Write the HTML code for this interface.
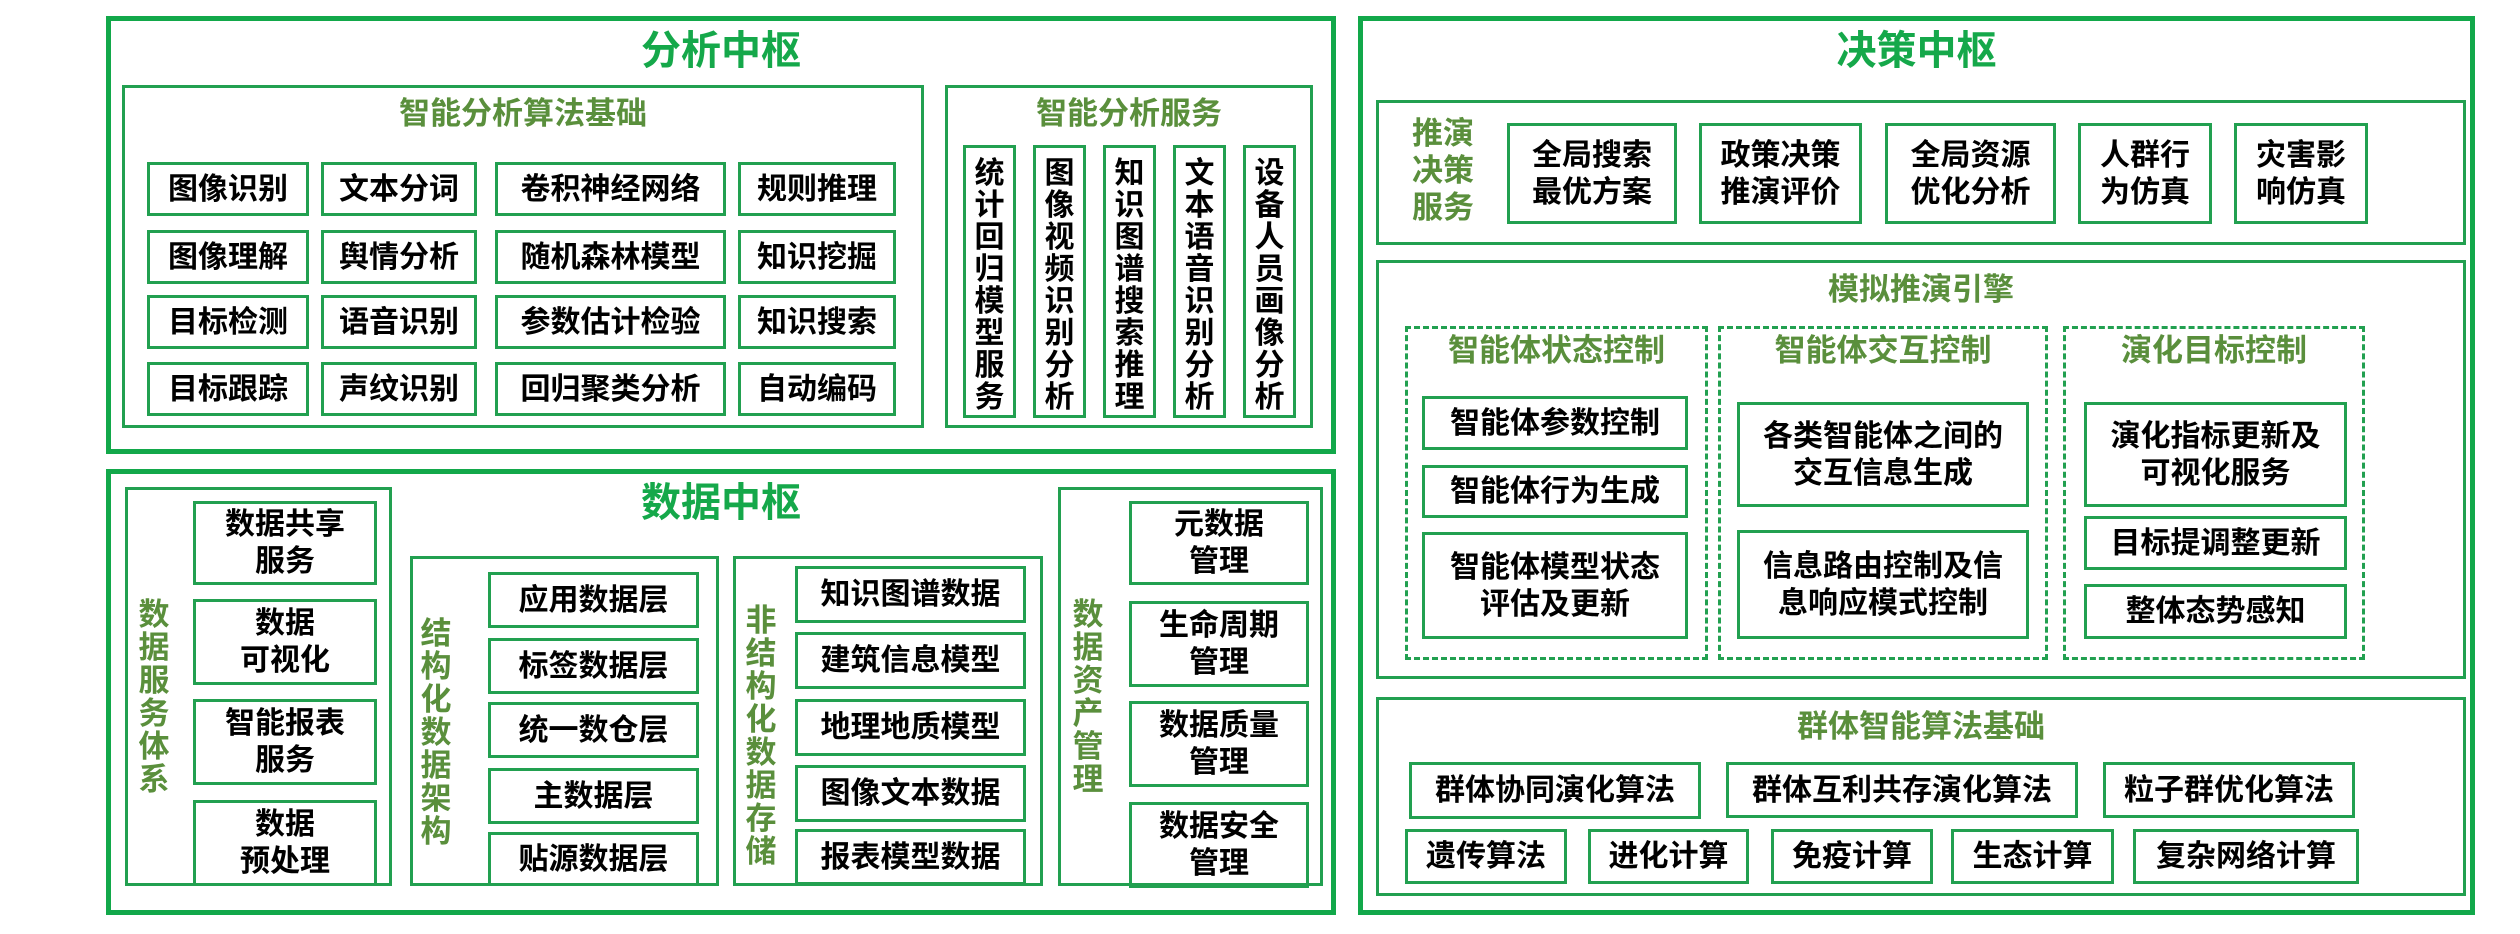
<!DOCTYPE html>
<html><head><meta charset="utf-8"><style>
body{margin:0;width:2520px;height:934px;background:#fff;position:relative;overflow:hidden;font-family:"Liberation Sans","Noto Sans CJK SC",sans-serif;font-weight:bold}
div{position:absolute;box-sizing:border-box}
.o{border:5px solid #12a84a}
.s{border:3px solid #22a050}
.b{border:3px solid #22a050;display:flex;align-items:center;justify-content:center;text-align:center;color:#000;font-size:30px;line-height:37px}
.d{border:3px dashed #22a050}
.t{color:#15a84a;font-size:40px;text-align:center;line-height:40px}
.st{color:#5a8f3c;font-size:31px;text-align:center;line-height:34px}
.v{display:flex;flex-direction:column;align-items:center;justify-content:space-between;padding:10px 0;font-size:30px;line-height:32px}
.vl{color:#5a8f3c;font-size:31px;line-height:33px;width:40px;text-align:center;word-break:break-all}
</style></head><body>
<!-- Analysis -->
<div class="o" style="left:106px;top:16px;width:1230px;height:438px"></div>
<div class="t" style="left:106px;top:31px;width:1230px">分析中枢</div>
<div class="s" style="left:122px;top:85px;width:802px;height:343px"></div>
<div class="st" style="left:122px;top:97px;width:802px">智能分析算法基础</div>
<div class="b" style="left:147px;top:162px;width:162px;height:54px">图像识别</div>
<div class="b" style="left:321px;top:162px;width:156px;height:54px">文本分词</div>
<div class="b" style="left:495px;top:162px;width:231px;height:54px">卷积神经网络</div>
<div class="b" style="left:738px;top:162px;width:158px;height:54px">规则推理</div>
<div class="b" style="left:147px;top:230px;width:162px;height:54px">图像理解</div>
<div class="b" style="left:321px;top:230px;width:156px;height:54px">舆情分析</div>
<div class="b" style="left:495px;top:230px;width:231px;height:54px">随机森林模型</div>
<div class="b" style="left:738px;top:230px;width:158px;height:54px">知识挖掘</div>
<div class="b" style="left:147px;top:295px;width:162px;height:54px">目标检测</div>
<div class="b" style="left:321px;top:295px;width:156px;height:54px">语音识别</div>
<div class="b" style="left:495px;top:295px;width:231px;height:54px">参数估计检验</div>
<div class="b" style="left:738px;top:295px;width:158px;height:54px">知识搜索</div>
<div class="b" style="left:147px;top:362px;width:162px;height:54px">目标跟踪</div>
<div class="b" style="left:321px;top:362px;width:156px;height:54px">声纹识别</div>
<div class="b" style="left:495px;top:362px;width:231px;height:54px">回归聚类分析</div>
<div class="b" style="left:738px;top:362px;width:158px;height:54px">自动编码</div>
<div class="s" style="left:945px;top:85px;width:368px;height:343px"></div>
<div class="st" style="left:945px;top:97px;width:368px">智能分析服务</div>
<div class="b v" style="left:963px;top:145px;width:53px;height:273px"><span>统</span><span>计</span><span>回</span><span>归</span><span>模</span><span>型</span><span>服</span><span>务</span></div>
<div class="b v" style="left:1033px;top:145px;width:53px;height:273px"><span>图</span><span>像</span><span>视</span><span>频</span><span>识</span><span>别</span><span>分</span><span>析</span></div>
<div class="b v" style="left:1103px;top:145px;width:53px;height:273px"><span>知</span><span>识</span><span>图</span><span>谱</span><span>搜</span><span>索</span><span>推</span><span>理</span></div>
<div class="b v" style="left:1173px;top:145px;width:53px;height:273px"><span>文</span><span>本</span><span>语</span><span>音</span><span>识</span><span>别</span><span>分</span><span>析</span></div>
<div class="b v" style="left:1243px;top:145px;width:53px;height:273px"><span>设</span><span>备</span><span>人</span><span>员</span><span>画</span><span>像</span><span>分</span><span>析</span></div>

<!-- Data -->
<div class="o" style="left:106px;top:469px;width:1230px;height:446px"></div>
<div class="t" style="left:106px;top:483px;width:1230px">数据中枢</div>
<div class="s" style="left:125px;top:487px;width:267px;height:399px"></div>
<div class="vl" style="left:134px;top:598px">数据服务体系</div>
<div class="b" style="left:193px;top:501px;width:184px;height:84px">数据共享<br>服务</div>
<div class="b" style="left:193px;top:599px;width:184px;height:86px">数据<br>可视化</div>
<div class="b" style="left:193px;top:699px;width:184px;height:86px">智能报表<br>服务</div>
<div class="b" style="left:193px;top:800px;width:184px;height:86px">数据<br>预处理</div>
<div class="s" style="left:410px;top:556px;width:309px;height:330px"></div>
<div class="vl" style="left:416px;top:617px">结构化数据架构</div>
<div class="b" style="left:488px;top:572px;width:211px;height:56px">应用数据层</div>
<div class="b" style="left:488px;top:638px;width:211px;height:56px">标签数据层</div>
<div class="b" style="left:488px;top:702px;width:211px;height:56px">统一数仓层</div>
<div class="b" style="left:488px;top:768px;width:211px;height:56px">主数据层</div>
<div class="b" style="left:488px;top:832px;width:211px;height:54px">贴源数据层</div>
<div class="s" style="left:733px;top:556px;width:310px;height:330px"></div>
<div class="vl" style="left:741px;top:604px">非结构化数据存储</div>
<div class="b" style="left:795px;top:566px;width:231px;height:57px">知识图谱数据</div>
<div class="b" style="left:795px;top:632px;width:231px;height:57px">建筑信息模型</div>
<div class="b" style="left:795px;top:699px;width:231px;height:57px">地理地质模型</div>
<div class="b" style="left:795px;top:765px;width:231px;height:57px">图像文本数据</div>
<div class="b" style="left:795px;top:829px;width:231px;height:56px">报表模型数据</div>
<div class="s" style="left:1058px;top:487px;width:265px;height:399px"></div>
<div class="vl" style="left:1068px;top:598px">数据资产管理</div>
<div class="b" style="left:1129px;top:501px;width:180px;height:84px">元数据<br>管理</div>
<div class="b" style="left:1129px;top:601px;width:180px;height:86px">生命周期<br>管理</div>
<div class="b" style="left:1129px;top:701px;width:180px;height:86px">数据质量<br>管理</div>
<div class="b" style="left:1129px;top:802px;width:180px;height:86px">数据安全<br>管理</div>

<!-- Decision -->
<div class="o" style="left:1358px;top:16px;width:1117px;height:899px"></div>
<div class="t" style="left:1358px;top:31px;width:1117px">决策中枢</div>
<div class="s" style="left:1376px;top:100px;width:1090px;height:145px"></div>
<div class="st" style="left:1408px;top:115px;width:70px;line-height:37px">推演<br>决策<br>服务</div>
<div class="b" style="left:1507px;top:123px;width:170px;height:101px">全局搜索<br>最优方案</div>
<div class="b" style="left:1699px;top:123px;width:163px;height:101px">政策决策<br>推演评价</div>
<div class="b" style="left:1885px;top:123px;width:171px;height:101px">全局资源<br>优化分析</div>
<div class="b" style="left:2078px;top:123px;width:134px;height:101px">人群行<br>为仿真</div>
<div class="b" style="left:2234px;top:123px;width:134px;height:101px">灾害影<br>响仿真</div>
<div class="s" style="left:1376px;top:260px;width:1090px;height:419px"></div>
<div class="st" style="left:1376px;top:273px;width:1090px">模拟推演引擎</div>
<div class="d" style="left:1405px;top:326px;width:303px;height:334px"></div>
<div class="d" style="left:1718px;top:326px;width:330px;height:334px"></div>
<div class="d" style="left:2063px;top:326px;width:302px;height:334px"></div>
<div class="st" style="left:1405px;top:334px;width:303px">智能体状态控制</div>
<div class="st" style="left:1718px;top:334px;width:330px">智能体交互控制</div>
<div class="st" style="left:2063px;top:334px;width:302px">演化目标控制</div>
<div class="b" style="left:1422px;top:396px;width:266px;height:54px">智能体参数控制</div>
<div class="b" style="left:1422px;top:465px;width:266px;height:53px">智能体行为生成</div>
<div class="b" style="left:1422px;top:532px;width:266px;height:107px">智能体模型状态<br>评估及更新</div>
<div class="b" style="left:1737px;top:402px;width:292px;height:105px">各类智能体之间的<br>交互信息生成</div>
<div class="b" style="left:1737px;top:530px;width:292px;height:109px">信息路由控制及信<br>息响应模式控制</div>
<div class="b" style="left:2084px;top:402px;width:263px;height:105px">演化指标更新及<br>可视化服务</div>
<div class="b" style="left:2084px;top:516px;width:263px;height:54px">目标提调整更新</div>
<div class="b" style="left:2084px;top:584px;width:263px;height:55px">整体态势感知</div>
<div class="s" style="left:1376px;top:697px;width:1090px;height:199px"></div>
<div class="st" style="left:1376px;top:710px;width:1090px">群体智能算法基础</div>
<div class="b" style="left:1409px;top:762px;width:292px;height:57px">群体协同演化算法</div>
<div class="b" style="left:1726px;top:762px;width:352px;height:56px">群体互利共存演化算法</div>
<div class="b" style="left:2103px;top:762px;width:252px;height:56px">粒子群优化算法</div>
<div class="b" style="left:1405px;top:829px;width:162px;height:55px">遗传算法</div>
<div class="b" style="left:1588px;top:829px;width:161px;height:55px">进化计算</div>
<div class="b" style="left:1771px;top:829px;width:162px;height:55px">免疫计算</div>
<div class="b" style="left:1951px;top:829px;width:163px;height:55px">生态计算</div>
<div class="b" style="left:2133px;top:829px;width:226px;height:55px">复杂网络计算</div>
</body></html>
